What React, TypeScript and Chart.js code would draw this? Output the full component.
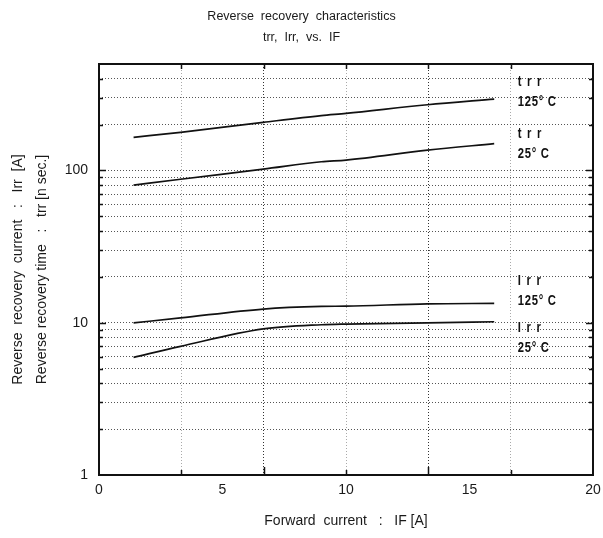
import React, { useEffect, useRef } from 'react';
import { Chart, registerables } from 'chart.js';

Chart.register(...registerables);

// ---- data ----
const forwardCurrent = [1.4, 3.3, 6.65, 9, 10, 13.3, 16];
const trr125 = [165, 178, 207, 229, 237, 270, 294];
const trr25 = [80, 87.5, 102, 114, 117, 136, 150];
const irr125 = [9.97, 10.75, 12.3, 12.8, 12.85, 13.3, 13.4];
const irr25 = [5.92, 7.0, 9.1, 9.7, 9.8, 9.97, 10.15];

const xLabelTicks = [0, 5, 10, 15, 20];
const xGridTicks = [0, 10 / 3, 20 / 3, 10, 40 / 3, 50 / 3, 20];
const yGridTicks = [1, 2, 3, 4, 5, 6, 7, 8, 9, 10, 20, 30, 40, 50, 60, 70, 80, 90, 100, 200, 300, 400, 500];
const yLabelTicks = [1, 10, 100];

const titleLines = ['Reverse  recovery  characteristics', 'trr,  Irr,  vs.  IF'];
const xTitle = 'Forward  current   :   IF [A]';
const yTitleLines = ['Reverse  recovery  current   :   Irr  [A]', 'Reverse recovery time   :   trr [n sec.]'];

const labelNames = ['trr', 'trr', 'Irr', 'Irr'];
const labelTemps = ['125° C', '25° C', '125° C', '25° C'];
const labelX = [16.95, 16.95, 16.95, 16.95];
const labelY = [381, 173, 18.7, 9.29];

const TEXT = '#1a1a1a';
const SANS = '"Liberation Sans", Arial, sans-serif';

const frameAndLabels = {
  id: 'frameAndLabels',
  afterDraw(chart: any) {
    const { ctx, chartArea } = chart;
    const { left, right, top, bottom } = chartArea;
    const xs = chart.scales.x;
    const ys = chart.scales.y;
    ctx.save();
    // frame
    ctx.strokeStyle = '#111';
    ctx.lineWidth = 2;
    ctx.strokeRect(left, top, right - left, bottom - top);
    // inward tick marks
    ctx.lineWidth = 1.5;
    ctx.beginPath();
    yGridTicks.forEach((v) => {
      if (v <= 1 || v >= 500) return;
      const py = Math.round(ys.getPixelForValue(v)) + 0.5;
      const len = yLabelTicks.includes(v) ? 7 : 4;
      ctx.moveTo(left, py);
      ctx.lineTo(left + len, py);
      ctx.moveTo(right, py);
      ctx.lineTo(right - len, py);
    });
    xGridTicks.forEach((v, i) => {
      if (i === 0 || i === xGridTicks.length - 1) return;
      const px = Math.round(xs.getPixelForValue(v)) + 0.5;
      const len = i === 2 || i === 4 ? 8 : 5;
      ctx.moveTo(px, bottom);
      ctx.lineTo(px, bottom - len);
      ctx.moveTo(px, top);
      ctx.lineTo(px, top + 5);
    });
    ctx.stroke();
    // curve labels (condensed bold)
    ctx.fillStyle = '#111';
    ctx.textAlign = 'left';
    ctx.textBaseline = 'middle';
    ctx.font = 'bold 15px ' + SANS;
    labelNames.forEach((name, i) => {
      const px = xs.getPixelForValue(labelX[i]);
      const py = ys.getPixelForValue(labelY[i]);
      ctx.save();
      ctx.translate(px, py);
      ctx.scale(0.75, 1);
      (ctx as any).letterSpacing = '7.5px';
      ctx.fillText(name, 0, 0);
      (ctx as any).letterSpacing = '1px';
      ctx.fillText(labelTemps[i], 0, 20);
      ctx.restore();
    });
    ctx.restore();
  },
};

export default function App() {
  const ref = useRef<HTMLCanvasElement | null>(null);

  useEffect(() => {
    if (!ref.current) return;
    const series = [trr125, trr25, irr125, irr25];
    const chart = new Chart(ref.current, {
      type: 'line',
      data: {
        datasets: series.map((s, k) => ({
          label: ['trr 125°C', 'trr 25°C', 'Irr 125°C', 'Irr 25°C'][k],
          data: forwardCurrent.map((x, i) => ({ x, y: s[i] })),
          borderColor: '#111',
          borderWidth: 1.7,
          pointRadius: 0,
          fill: false,
          cubicInterpolationMode: 'monotone' as const,
        })),
      },
      options: {
        responsive: false,
        animation: false,
        layout: { padding: { left: 10, right: 10, top: 0, bottom: 0 } },
        plugins: {
          legend: { display: false },
          tooltip: { enabled: false },
          title: {
            display: true,
            text: titleLines,
            color: TEXT,
            font: { family: SANS, size: 12.5, weight: 'normal', lineHeight: '21px' },
            padding: { top: 6, bottom: 16 },
          },
        },
        scales: {
          x: {
            type: 'linear',
            position: 'bottom',
            min: 0,
            max: 20,
            afterBuildTicks: (axis: any) => {
              axis.ticks = xLabelTicks.map((v) => ({ value: v }));
            },
            afterFit: (axis: any) => {
              axis.height = 63;
              axis.paddingRight = 0;
              axis.paddingLeft = 0;
            },
            grid: { display: false, drawTicks: false },
            border: { display: false },
            ticks: {
              color: TEXT,
              padding: 7,
              font: { family: SANS, size: 14 },
              maxRotation: 0,
              autoSkip: false,
            },
            title: {
              display: true,
              text: xTitle,
              color: TEXT,
              font: { family: SANS, size: 14 },
              padding: { top: 0, bottom: 8 },
            },
          },
          x2: {
            type: 'linear',
            position: 'bottom',
            min: 0,
            max: 20,
            afterBuildTicks: (axis: any) => {
              axis.ticks = xGridTicks.map((v) => ({ value: v }));
            },
            afterFit: (axis: any) => {
              axis.height = 0;
              axis.paddingRight = 0;
              axis.paddingLeft = 0;
            },
            grid: {
              display: true,
              drawTicks: false,
              lineWidth: 1,
              color: (c: any) => (c.index === 2 || c.index === 4 ? '#333' : '#aaa'),
            },
            border: { display: false, dash: [1, 2] },
            ticks: { display: false },
          },
          y: {
            type: 'logarithmic',
            position: 'left',
            min: 1,
            max: 500,
            afterBuildTicks: (axis: any) => {
              axis.ticks = yGridTicks.map((v) => ({ value: v }));
            },
            afterFit: (axis: any) => {
              axis.width = 89;
            },
            grid: { display: true, drawTicks: false, color: '#555', lineWidth: 1 },
            border: { display: false, dash: [1, 2] },
            ticks: {
              color: TEXT,
              padding: 11,
              autoSkip: false,
              font: { family: SANS, size: 14 },
              callback: (v: any) => (yLabelTicks.includes(Number(v)) ? String(v) : ''),
            },
            title: {
              display: true,
              text: yTitleLines,
              color: TEXT,
              font: { family: SANS, size: 14, lineHeight: '24px' },
              padding: { top: -4, bottom: 0 },
            },
          },
        },
      },
      plugins: [frameAndLabels],
    } as any);
    return () => chart.destroy();
  }, []);

  return (
    <div style={{ position: 'fixed', left: 0, top: 0, width: 603, height: 538, background: '#fff' }}>
      <canvas ref={ref} width={603} height={538} />
    </div>
  );
}
